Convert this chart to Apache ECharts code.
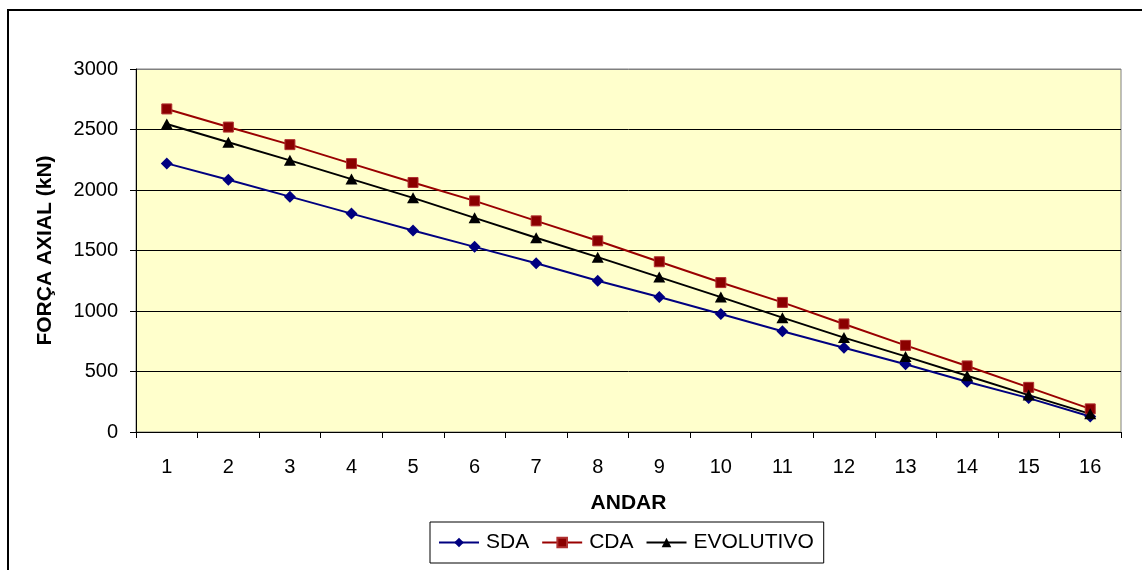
<!DOCTYPE html>
<html>
<head>
<meta charset="utf-8">
<script src="https://cdn.jsdelivr.net/npm/echarts@6/dist/echarts.min.js"></script>
<style>
html,body{margin:0;padding:0;background:#fff;}
#chart{width:1142px;height:570px;}
</style>
</head>
<body>
<div id="chart"></div>
<script>
const categories = ['1','2','3','4','5','6','7','8','9','10','11','12','13','14','15','16'];
const sda = [2220, 2085, 1945, 1805, 1665, 1530, 1395, 1250, 1115, 975, 833, 697, 560, 415, 280, 128];
const cda = [2670, 2520, 2375, 2218, 2062, 1910, 1745, 1580, 1407, 1235, 1071, 893, 716, 546, 369, 191];
const evolutivo = [2545, 2395, 2245, 2090, 1935, 1770, 1605, 1445, 1280, 1115, 945, 780, 625, 465, 305, 150];
const yTicks = [0, 500, 1000, 1500, 2000, 2500, 3000];

const chart = echarts.init(document.getElementById('chart'));
const font = 'Liberation Sans, Arial, sans-serif';
chart.setOption({
  animation: false,
  graphic: [{
    type: 'rect', shape: {x: 8, y: 10, width: 1300, height: 700},
    style: {fill: 'none', stroke: '#000', lineWidth: 2}, silent: true, z: -10
  }],
  grid: {
    left: 136, right: 21, top: 69, bottom: 138,
    show: true, backgroundColor: '#FFFFCC', borderColor: '#808080', borderWidth: 1
  },
  legend: {
    left: 430, top: 522,
    itemWidth: 40, itemHeight: 12, itemGap: 12,
    padding: [10, 10, 10, 8],
    borderColor: '#000', borderWidth: 1,
    textStyle: {fontFamily: font, fontSize: 21, color: '#000', padding: [0, 0, 0, 2]},
    data: ['SDA', 'CDA', 'EVOLUTIVO']
  },
  xAxis: {
    type: 'category', data: categories, boundaryGap: true,
    name: 'ANDAR', nameLocation: 'middle', nameGap: 61,
    nameTextStyle: {fontFamily: font, fontSize: 21, fontWeight: 'bold', color: '#000'},
    axisLine: {lineStyle: {color: '#000', width: 1}},
    axisTick: {show: true, length: 6, lineStyle: {color: '#000'}},
    axisLabel: {fontFamily: font, fontSize: 20, color: '#000', margin: 25}
  },
  yAxis: {
    type: 'value', min: 0, max: 3000, interval: 500,
    name: 'FORÇA AXIAL (kN)', nameLocation: 'middle', nameGap: 80,
    nameTextStyle: {fontFamily: font, fontSize: 21, fontWeight: 'bold', color: '#000'},
    axisLine: {show: true, lineStyle: {color: '#000', width: 1}},
    axisTick: {show: true, length: 6, lineStyle: {color: '#000'}},
    axisLabel: {fontFamily: font, fontSize: 20, color: '#000', margin: 18,
      formatter: v => yTicks.includes(v) ? String(v) : ''},
    splitLine: {show: true, lineStyle: {color: ['#000','#000','#000','#000','#000','#000','#808080'], width: 1}}
  },
  series: [
    {name: 'SDA', type: 'line', data: sda, symbol: 'diamond', symbolSize: [12, 12],
      itemStyle: {color: '#000080'}, lineStyle: {color: '#000080', width: 2}},
    {name: 'CDA', type: 'line', data: cda, symbol: 'rect', symbolSize: 10,
      itemStyle: {color: '#8B0000', borderColor: '#B03030', borderWidth: 1}, lineStyle: {color: '#990000', width: 2}},
    {name: 'EVOLUTIVO', type: 'line', data: evolutivo, symbol: 'triangle', symbolSize: [12, 11],
      itemStyle: {color: '#000'}, lineStyle: {color: '#000', width: 2}}
  ]
});
</script>
</body>
</html>
